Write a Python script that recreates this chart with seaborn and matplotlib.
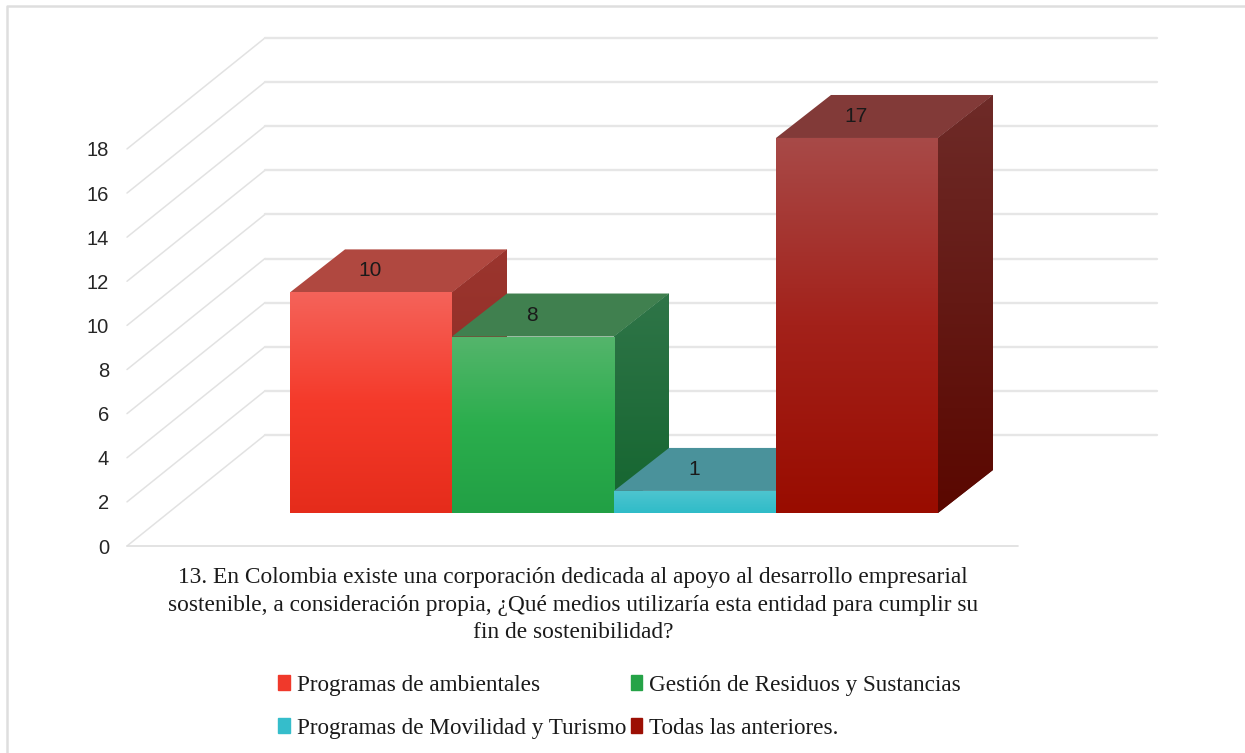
import numpy as np
import pandas as pd
import matplotlib
matplotlib.use('Agg')
import matplotlib.pyplot as plt
import seaborn as sns
from matplotlib.colors import LinearSegmentedColormap
from matplotlib.patches import Patch, Polygon

categories = ['Programas de ambientales', 'Gestión de Residuos y Sustancias',
              'Programas de Movilidad y Turismo', 'Todas las anteriores.']
values = [10, 8, 1, 17]
y_ticks = [0, 2, 4, 6, 8, 10, 12, 14, 16, 18]
title_lines = ['13. En Colombia existe una corporación dedicada al apoyo al desarrollo empresarial',
               'sostenible, a consideración propia, ¿Qué medios utilizaría esta entidad para cumplir su',
               'fin de sostenibilidad?']

legend_colors = ['#F0392B', '#25A347', '#35BDCB', '#9C0F04']
front_colors = [['#F4635A', '#F53A2A', '#E52C1B'],
                ['#55B56C', '#2BAE4D', '#22A045'],
                ['#4FC5CF', '#3FC0CC', '#2FBCC8'],
                ['#A84A48', '#A3211A', '#990C00']]
top_colors = ['#B04840', '#40804F', '#4A929B', '#823A38']
side_colors = [['#9B352E', '#8A2A22'], ['#2F7548', '#14652F'],
               ['#2F8F99', '#2A8A94'], ['#6E2B28', '#5A0700']]

# pixel scale of the picture
W, H = 1245, 753
BAR_PX = 162.0
UNIT_PX = 22.06
BASE_PX = 513.0
CENTER_PX = 371.0


def to_x(px):
    return (px - CENTER_PX) / BAR_PX


def to_y(px):
    return (BASE_PX - px) / UNIT_PX


depth_x = 55 / BAR_PX
depth_y = 43 / UNIT_PX

sns.set_theme(style='white')
fig = plt.figure(figsize=(W / 100, H / 100), dpi=100, facecolor='white')
ax = fig.add_axes([0, 0, 1, 1])

df = pd.DataFrame({'categoria': categories, 'valor': values})
sns.barplot(data=df, x='categoria', y='valor', hue='categoria', palette=legend_colors,
            order=categories, hue_order=categories, dodge=False, width=1.0, legend=False,
            linewidth=0, ax=ax)

bars = [c[0] for c in ax.containers]


def gradient(stops, x0, x1, y0, y1, clip, z):
    cmap = LinearSegmentedColormap.from_list('g', stops)
    im = ax.imshow(np.linspace(0, 1, 256).reshape(-1, 1), cmap=cmap, aspect='auto',
                   extent=(x0, x1, y0, y1), origin='upper', zorder=z, interpolation='bilinear')
    im.set_clip_path(clip)


for i, bar in enumerate(bars):
    x0 = bar.get_x()
    x1 = x0 + bar.get_width()
    h = bar.get_height()
    z = 3 + i

    top = Polygon([(x0, h), (x0 + depth_x, h + depth_y), (x1 + depth_x, h + depth_y), (x1, h)],
                  closed=True, facecolor=top_colors[i], edgecolor='none', zorder=z)
    ax.add_patch(top)

    side = Polygon([(x1, 0), (x1 + depth_x, depth_y), (x1 + depth_x, h + depth_y), (x1, h)],
                   closed=True, facecolor=side_colors[i][0], edgecolor='none', zorder=z,
                   transform=ax.transData)
    ax.add_patch(side)
    gradient(side_colors[i], x1, x1 + depth_x, 0, h + depth_y, side, z + 0.1)

    bar.set_zorder(z + 0.2)
    gradient(front_colors[i], x0, x1, 0, h, bar, z + 0.3)

    ax.text((x0 + x1) / 2 - 1 / BAR_PX, h + depth_y / 2, str(values[i]), ha='center', va='center',
            fontsize=15, family='Liberation Sans', color='#1a1a1a', zorder=20)

# back wall and floor grid lines
for v in y_ticks:
    front_y = to_y(546 - v * UNIT_PX)
    back_y = to_y(435 - v * UNIT_PX)
    ax.plot([to_x(127), to_x(265)], [front_y, back_y], color='#E2E2E2', lw=1.1, zorder=1)
    ax.plot([to_x(265), to_x(1157)], [back_y, back_y], color='#E6E6E6', lw=1.7, zorder=1)
ax.plot([to_x(127), to_x(1018)], [to_y(546), to_y(546)], color='#DEDEDE', lw=1.2, zorder=1)

# frame of the pasted picture
ax.plot([to_x(7), to_x(7), to_x(W)], [to_y(H), to_y(6), to_y(6)], color='#DEDEDE', lw=1.8, zorder=1)

ax.set_xlim(to_x(0), to_x(W))
ax.set_ylim(to_y(H), to_y(0))
ax.set_axis_off()

# value axis sits on the front edge of the floor
tick_ax = fig.add_axes([127 / W, 1 - 546 / H, 10 / W, 18 * UNIT_PX / H], facecolor='none')
tick_ax.set_ylim(0, 18)
tick_ax.set_xticks([])
tick_ax.set_yticks(y_ticks)
tick_ax.set_yticklabels([str(t) for t in y_ticks], family='Liberation Sans', fontsize=14.5, color='#262626')
tick_ax.tick_params(axis='y', length=0, pad=13)
sns.despine(ax=tick_ax, left=True, bottom=True)

for line, py in zip(title_lines, [577, 606, 633]):
    fig.text(573 / W, 1 - py / H, line, ha='center', va='center', family='Liberation Serif',
             fontsize=16.8, color='#1a1a1a')

handles = [Patch(color=c, label=l) for c, l in zip(legend_colors, categories)]
order = [0, 2, 1, 3]
fig.legend([handles[k] for k in order], [categories[k] for k in order], ncols=2, frameon=False,
           loc='center left', bbox_to_anchor=(278 / W, 1 - 707 / H),
           prop={'family': 'Liberation Serif', 'size': 16.7}, labelcolor='#1a1a1a',
           handlelength=0.5, handleheight=0.6, handletextpad=0.3, columnspacing=0.2,
           labelspacing=0.95, borderpad=0, borderaxespad=0)

fig.savefig('out.png', dpi=100)
